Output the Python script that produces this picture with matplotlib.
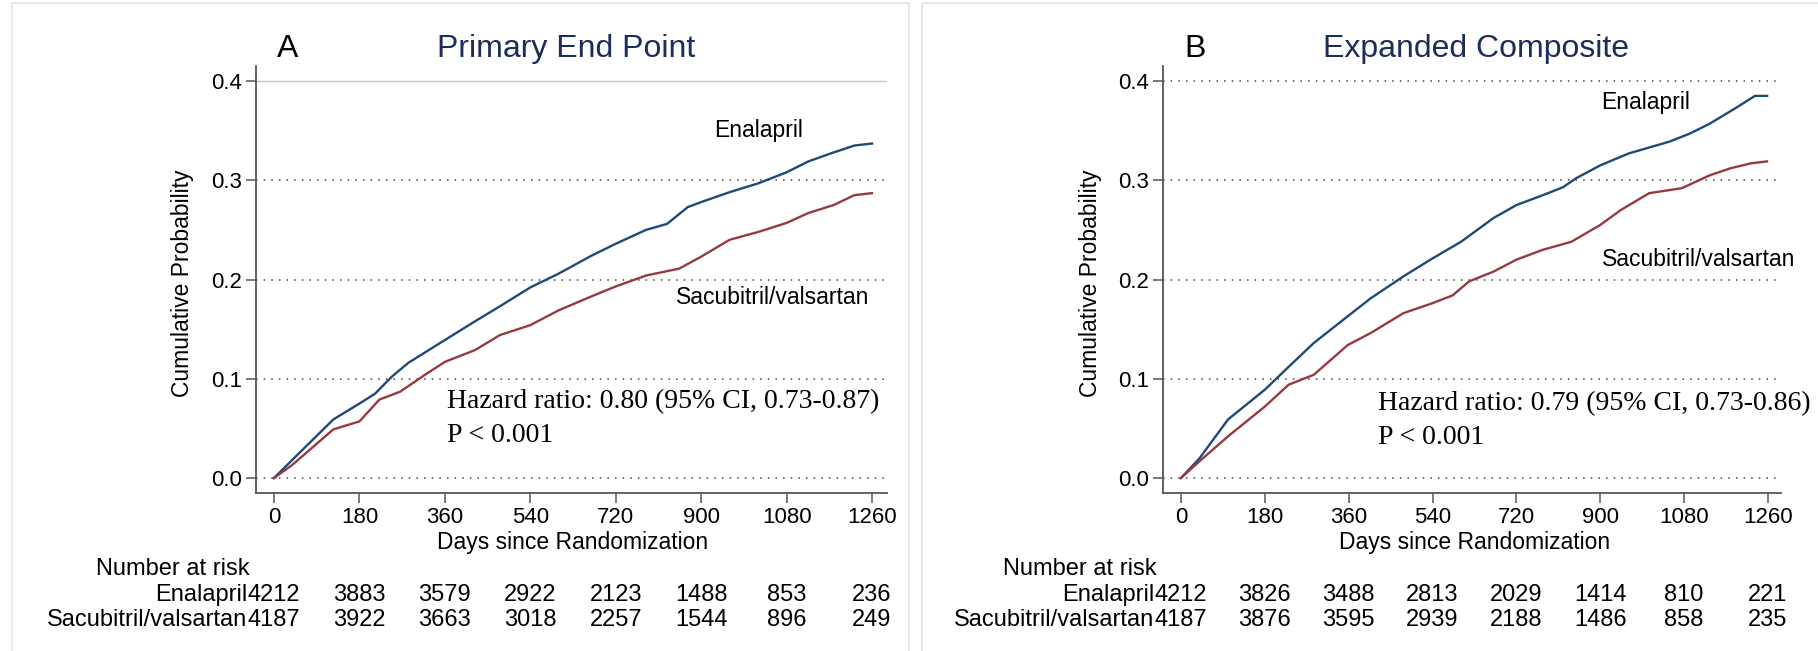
import numpy as np
import matplotlib
matplotlib.use("Agg")
import matplotlib.pyplot as plt
from matplotlib.patches import Rectangle

# Kaplan-Meier curves (days, cumulative probability)
daysA_ena = [0, 38, 125, 180, 213, 248, 283, 360, 424, 476, 540, 600, 669, 720, 784, 828, 872, 900, 960, 1021, 1080, 1126, 1179, 1223, 1260]
probA_ena = [0, 0.018, 0.059, 0.075, 0.085, 0.102, 0.116, 0.139, 0.158, 0.173, 0.192, 0.206, 0.224, 0.236, 0.250, 0.256, 0.273, 0.278, 0.288, 0.297, 0.308, 0.319, 0.328, 0.335, 0.337]
daysA_sac = [0, 38, 125, 180, 222, 266, 318, 360, 424, 476, 540, 600, 669, 720, 784, 854, 900, 960, 1021, 1080, 1126, 1179, 1223, 1260]
probA_sac = [0, 0.013, 0.049, 0.057, 0.079, 0.087, 0.104, 0.117, 0.129, 0.144, 0.154, 0.169, 0.183, 0.193, 0.204, 0.211, 0.223, 0.240, 0.248, 0.257, 0.267, 0.275, 0.285, 0.287]

daysB_ena = [0, 40, 101, 180, 231, 285, 358, 407, 477, 539, 601, 671, 720, 777, 820, 848, 900, 961, 1049, 1092, 1135, 1188, 1232, 1258]
probB_ena = [0, 0.020, 0.059, 0.089, 0.112, 0.136, 0.163, 0.181, 0.203, 0.221, 0.238, 0.262, 0.275, 0.285, 0.293, 0.302, 0.315, 0.327, 0.339, 0.347, 0.357, 0.372, 0.385, 0.385]
daysB_sac = [0, 40, 101, 180, 231, 285, 358, 407, 477, 539, 583, 618, 671, 720, 777, 838, 900, 944, 1005, 1075, 1135, 1179, 1223, 1258]
probB_sac = [0, 0.017, 0.042, 0.072, 0.094, 0.104, 0.134, 0.146, 0.166, 0.176, 0.184, 0.198, 0.208, 0.220, 0.230, 0.238, 0.255, 0.270, 0.287, 0.292, 0.305, 0.312, 0.317, 0.319]

risk_days = [0, 180, 360, 540, 720, 900, 1080, 1260]
riskA_ena = [4212, 3883, 3579, 2922, 2123, 1488, 853, 236]
riskA_sac = [4187, 3922, 3663, 3018, 2257, 1544, 896, 249]
riskB_ena = [4212, 3826, 3488, 2813, 2029, 1414, 810, 221]
riskB_sac = [4187, 3876, 3595, 2939, 2188, 1486, 858, 235]

yticks = [0.0, 0.1, 0.2, 0.3, 0.4]

W, H = 1818, 651
sans = ["Liberation Sans", "DejaVu Sans"]
serif = ["Liberation Serif", "DejaVu Serif"]
blue = "#1f4a78"
red = "#973a40"
navy = "#1c2d5c"

def fx(x):
    return x / W

def fy(y):
    return 1 - y / H

fig = plt.figure(figsize=(W / 100, H / 100), dpi=100)

# light panel frames
fig.patches.append(Rectangle((fx(12), fy(660)), fx(909 - 12), fy(3) - fy(660),
                             transform=fig.transFigure, fill=False, ec="#dfe5ec", lw=1.2))
fig.patches.append(Rectangle((fx(922), fy(660)), fx(1830 - 922), fy(3) - fy(660),
                             transform=fig.transFigure, fill=False, ec="#dfe5ec", lw=1.2))

# pixel layout: axes box from y=66 to y=493, y=0 at 478 and y=0.4 at 81
top_px, bot_px, zero_px, ppu = 66, 493, 478, 992.5


def panel(left, right, x0, x1260, letter, title, title_x, dE, pE, dS, pS, rE, rS,
          hr, hr_xy, enal_xy, sac_xy, solid_top):
    ppd = (x1260 - x0) / 1260.0
    ax = fig.add_axes([fx(left), fy(bot_px), fx(right - left), fy(top_px) - fy(bot_px)])
    ax.set_xlim(-(x0 - left) / ppd, 1260 + (right - x1260) / ppd)
    ax.set_ylim(-(bot_px - zero_px) / ppu, (zero_px - top_px) / ppu)
    for s in ["top", "right"]:
        ax.spines[s].set_visible(False)
    for s in ["left", "bottom"]:
        ax.spines[s].set_color("#555555")
        ax.spines[s].set_linewidth(1.3)
    ax.set_xticks(risk_days)
    ax.set_yticks(yticks)
    ax.set_yticklabels(["%.1f" % v for v in yticks])
    ax.tick_params(direction="out", length=7.2, width=1.1, color="#555555", labelsize=16, pad=3)
    for lab in ax.get_xticklabels() + ax.get_yticklabels():
        lab.set_family(sans)
    for v in yticks:
        if v == 0.4 and solid_top:
            ax.axhline(v, color="#c4c4c4", lw=1.0, zorder=0)
        else:
            ax.axhline(v, color="#444444", lw=1.1, ls=(0, (1, 4)), zorder=0)
    ax.plot(dE, pE, color=blue, lw=1.7)
    ax.plot(dS, pS, color=red, lw=1.7)

    fig.text(fx((x0 + x1260) / 2), fy(542), "Days since Randomization", fontsize=16.5,
             family=sans, ha="center", va="center")
    fig.text(fx(left - 73), fy(283), "Cumulative Probability", fontsize=16.5, family=sans,
             rotation=90, ha="center", va="center")

    fig.text(fx(left + 21), fy(57), letter, fontsize=23, family=sans, va="baseline")
    fig.text(fx(title_x), fy(57), title, fontsize=23, family=sans, color=navy,
             va="baseline", ha="center")
    fig.text(fx(enal_xy[0]), fy(enal_xy[1]), "Enalapril", fontsize=16.5, family=sans, va="center")
    fig.text(fx(sac_xy[0]), fy(sac_xy[1]), "Sacubitril/valsartan", fontsize=16.5, family=sans, va="center")
    fig.text(fx(hr_xy[0]), fy(hr_xy[1]), hr, fontsize=20, family=serif, va="center")
    fig.text(fx(hr_xy[0]), fy(hr_xy[1] + 34), "P < 0.001", fontsize=20, family=serif, va="center")

    # number at risk table
    fig.text(fx(left - 160), fy(569), "Number at risk", fontsize=17, family=sans, va="center")
    fig.text(fx(x0 - 27), fy(595), "Enalapril", fontsize=17, family=sans, va="center", ha="right")
    fig.text(fx(x0 - 27), fy(620), "Sacubitril/valsartan", fontsize=17, family=sans, va="center", ha="right")
    for d, a, b in zip(risk_days, rE, rS):
        xp = x0 + d * ppd
        fig.text(fx(xp), fy(595), str(a), fontsize=17, family=sans, va="center", ha="center")
        fig.text(fx(xp), fy(620), str(b), fontsize=17, family=sans, va="center", ha="center")
    return ax


panel(256, 887, 274, 872, "A", "Primary End Point", 566,
      daysA_ena, probA_ena, daysA_sac, probA_sac, riskA_ena, riskA_sac,
      "Hazard ratio: 0.80 (95% CI, 0.73-0.87)", (447, 402), (714, 130), (676, 297), True)
panel(1163, 1781, 1181, 1768, "B", "Expanded Composite", 1476,
      daysB_ena, probB_ena, daysB_sac, probB_sac, riskB_ena, riskB_sac,
      "Hazard ratio: 0.79 (95% CI, 0.73-0.86)", (1378, 404), (1601, 103), (1602, 259), False)

fig.savefig("out.png", dpi=100)
